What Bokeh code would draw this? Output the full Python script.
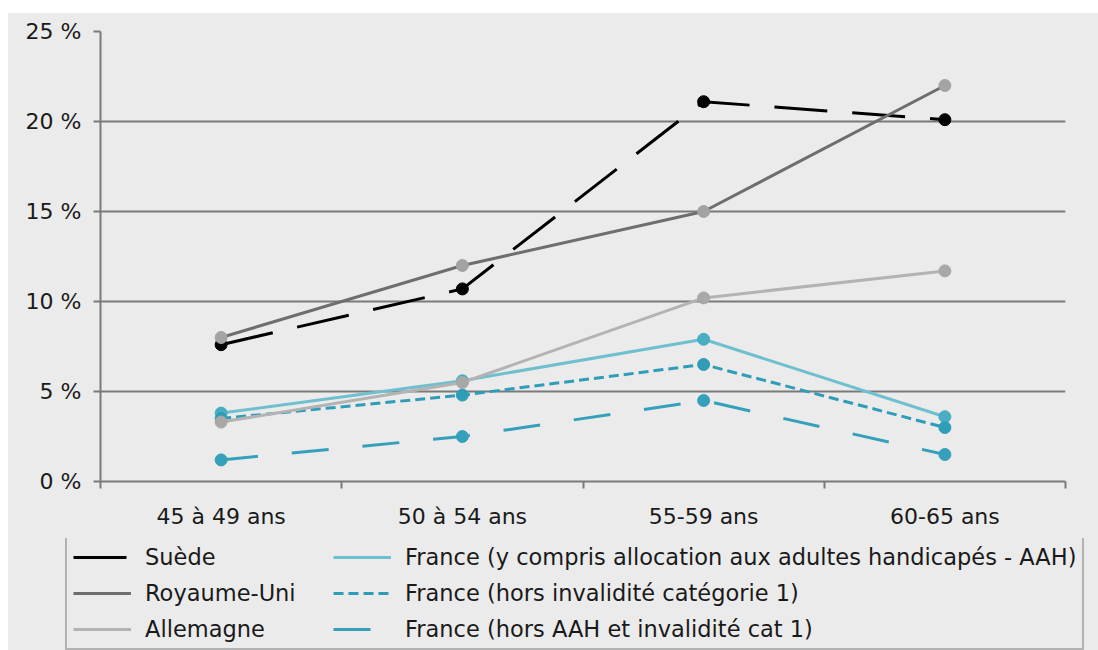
from bokeh.plotting import figure
from bokeh.models import FixedTicker, Legend, LegendItem, Range1d, Spacer
from bokeh.layouts import column, row
from bokeh.embed import file_html
from bokeh.resources import INLINE

# ---- data ----
categories = ["45 à 49 ans", "50 à 54 ans", "55-59 ans", "60-65 ans"]
suede = [7.6, 10.7, 21.1, 20.1]
royaume_uni = [8.0, 12.0, 15.0, 22.0]
allemagne = [3.3, 5.5, 10.2, 11.7]
france_aah = [3.8, 5.6, 7.9, 3.6]
france_hors_inv = [3.5, 4.8, 6.5, 3.0]
france_hors_aah_inv = [1.2, 2.5, 4.5, 1.5]
y_ticks = [0, 5, 10, 15, 20, 25]
y_tick_labels = ["0 %", "5 %", "10 %", "15 %", "20 %", "25 %"]
series_names = [
    "Suède",
    "Royaume-Uni",
    "Allemagne",
    "France (y compris allocation aux adultes handicapés - AAH)",
    "France (hors invalidité catégorie 1)",
    "France (hors AAH et invalidité cat 1)",
]

xs = [i + 0.5 for i in range(len(categories))]
bounds = list(range(len(categories) + 1))

BG = "#ebebeb"
GRID = "#7a7a7a"
TXT = "#1a1a1a"
FONT = "DejaVu Sans"

p = figure(width=1090, height=525, output_backend="svg", toolbar_location=None,
           x_range=Range1d(0, len(categories)), y_range=Range1d(0, 25),
           min_border_left=92, min_border_right=33, min_border_top=18, min_border_bottom=57)
p.background_fill_color = BG
p.border_fill_color = BG
p.outline_line_color = None
p.frame_align = False

# y axis
p.yaxis.ticker = FixedTicker(ticks=y_ticks)
p.yaxis.major_label_overrides = {t: l for t, l in zip(y_ticks, y_tick_labels)}
p.yaxis.axis_line_color = GRID
p.yaxis.axis_line_width = 2
p.yaxis.major_tick_line_color = GRID
p.yaxis.major_tick_line_width = 2
p.yaxis.major_tick_out = 7
p.yaxis.major_tick_in = 0
p.yaxis.minor_tick_line_color = None
p.yaxis.major_label_standoff = 12
p.yaxis.major_label_text_font = FONT
p.yaxis.major_label_text_font_size = "22px"
p.yaxis.major_label_text_color = TXT

# x axis
p.xaxis.ticker = FixedTicker(ticks=xs, minor_ticks=bounds)
p.xaxis.major_label_overrides = {x: c for x, c in zip(xs, categories)}
p.xaxis.axis_line_color = GRID
p.xaxis.axis_line_width = 2
p.xaxis.major_tick_line_color = None
p.xaxis.major_tick_out = 0
p.xaxis.major_tick_in = 0
p.xaxis.minor_tick_line_color = GRID
p.xaxis.minor_tick_line_width = 2
p.xaxis.minor_tick_out = 7
p.xaxis.minor_tick_in = 0
p.xaxis.major_label_standoff = 15
p.xaxis.major_label_text_font = FONT
p.xaxis.major_label_text_font_size = "22px"
p.xaxis.major_label_text_color = TXT

p.xgrid.visible = False
p.ygrid.ticker = FixedTicker(ticks=y_ticks)
p.ygrid.grid_line_color = GRID
p.ygrid.grid_line_width = 2

styles = {
    "Suède": dict(line="#000000", marker="#000000", dash="53 25", data=suede),
    "Royaume-Uni": dict(line="#6e6e6e", marker="#a3a3a3", dash="solid", data=royaume_uni),
    "Allemagne": dict(line="#b3b3b3", marker="#a8a8a8", dash="solid", data=allemagne),
    series_names[3]: dict(line="#6fc0cf", marker="#4aaec3", dash="solid", data=france_aah),
    series_names[4]: dict(line="#2f9db8", marker="#2f9db8", dash="10 5", data=france_hors_inv),
    series_names[5]: dict(line="#35a0ba", marker="#35a0ba", dash="37 34", data=france_hors_aah_inv),
}

draw_order = [series_names[3], series_names[4], series_names[5], "Suède", "Allemagne", "Royaume-Uni"]
for name in draw_order:
    s = styles[name]
    p.line(xs, s["data"], line_color=s["line"], line_width=3, line_dash=s["dash"])
    p.scatter(xs, s["data"], size=12, fill_color=s["marker"], line_color=s["marker"])

# ---- legend panel (separate figure, frame spans it, so the legend is not clipped) ----
lg = figure(width=1090, height=112, output_backend="svg", toolbar_location=None,
            x_range=Range1d(-20, -10), y_range=Range1d(-20, -10),
            x_axis_location=None, y_axis_location=None,
            min_border_left=0, min_border_right=0, min_border_top=0, min_border_bottom=0)
lg.background_fill_color = BG
lg.border_fill_color = BG
lg.outline_line_color = None
lg.xgrid.visible = False
lg.ygrid.visible = False
lg.frame_align = False

items = []
for name in series_names:
    s = styles[name]
    # same series, drawn outside this panel's visible range: only its legend glyph shows
    r = lg.line(xs, s["data"], line_color=s["line"], line_width=3, line_dash=s["dash"])
    items.append(LegendItem(label=name, renderers=[r]))

legend = Legend(items=items, location=(57, 0), ncols=2, orientation="vertical",
                glyph_width=58, glyph_height=20, label_standoff=14, label_width=178,
                spacing=10, padding=6, margin=0,
                label_text_font=FONT, label_text_font_size="22.5px", label_text_color=TXT,
                border_line_color=GRID, border_line_width=2,
                background_fill_color=BG, background_fill_alpha=1.0)
lg.add_layout(legend)

chart = column(p, lg, styles={"background-color": BG})
layout = row(Spacer(width=8), column(Spacer(height=13), chart))
open("out.html", "w").write(file_html(layout, INLINE))
